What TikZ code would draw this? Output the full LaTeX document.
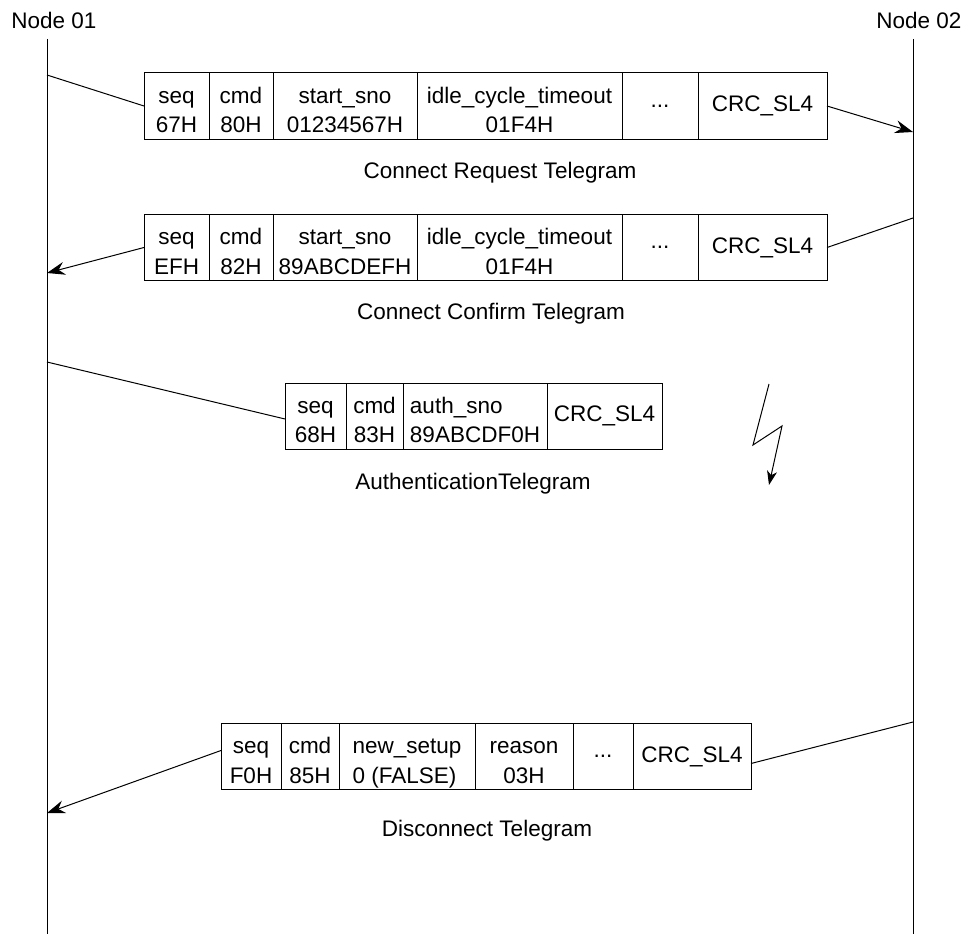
\documentclass[tikz,border=0pt]{standalone}
\usepackage{fontspec}
\setmainfont{Liberation Sans}
\usetikzlibrary{positioning,arrows.meta}
\tikzstyle{cell} = [draw, outer sep=0pt, inner xsep=2pt, inner ysep=3pt, minimum height=66pt, align=center]
\tikzstyle{twoline} = [text height=53pt, text depth=0pt]
\tikzstyle{arrow} = [->, >={Stealth[length=18pt,width=13pt,inset=6pt]}]
\tikzstyle{caption} = [anchor=base]

\begin{document}
\begin{tikzpicture}[x=1pt, y=-1pt, line width=1pt, font=\fontsize{22.5}{29.5}\selectfont]
    \useasboundingbox (0,0) rectangle (972,934);

    \node (node1) at (54,20) {Node 01};
    \node (node2) at (919,20) {Node 02};
    \coordinate (top1) at (47,39);
    \coordinate (bot1) at (47,934);
    \coordinate (top2) at (913,39);
    \coordinate (bot2) at (913,934);
    \draw (top1) -- (bot1); % lifeline of node 01
    \draw (top2) -- (bot2); % lifeline of node 02

    % connect request
    \node (seq1) [cell, twoline, minimum width=65pt, anchor=west] at (144,106) {seq\\67H};
    \node (cmd1) [cell, twoline, minimum width=64pt, right=0pt of seq1] {cmd\\80H};
    \node (sno1) [cell, twoline, minimum width=144pt, right=0pt of cmd1] {start\_sno\\01234567H};
    \node (idle1) [cell, twoline, minimum width=205pt, right=0pt of sno1] {idle\_cycle\_timeout\\01F4H};
    \node (etc1) [cell, minimum width=76pt, right=0pt of idle1] {...};
    \node (crc1) [cell, minimum width=129pt, right=0pt of etc1] {CRC\_SL4};
    \node (cap1) [caption] at (500,178) {Connect Request Telegram};
    \coordinate (out1) at (47,75);
    \coordinate (in1) at (913,132);
    \draw (out1) -- (seq1.west);
    \draw [arrow] (crc1.east) -- (in1);

    % connect confirm
    \node (seq2) [cell, twoline, minimum width=65pt, anchor=west] at (144,247.5) {seq\\EFH};
    \node (cmd2) [cell, twoline, minimum width=64pt, right=0pt of seq2] {cmd\\82H};
    \node (sno2) [cell, twoline, minimum width=144pt, right=0pt of cmd2] {start\_sno\\89ABCDEFH};
    \node (idle2) [cell, twoline, minimum width=205pt, right=0pt of sno2] {idle\_cycle\_timeout\\01F4H};
    \node (etc2) [cell, minimum width=76pt, right=0pt of idle2] {...};
    \node (crc2) [cell, minimum width=129pt, right=0pt of etc2] {CRC\_SL4};
    \node (cap2) [caption] at (491,319) {Connect Confirm Telegram};
    \coordinate (out2) at (913,218);
    \coordinate (in2) at (47,273);
    \draw (out2) -- (crc2.east);
    \draw [arrow] (seq2.west) -- (in2);

    % authentication, lost on the way
    \node (seq3) [cell, twoline, minimum width=61pt, anchor=west] at (285,416) {seq\\68H};
    \node (cmd3) [cell, twoline, minimum width=57pt, right=0pt of seq3] {cmd\\83H};
    \node (auth3) [cell, twoline, align=left, minimum width=144pt, right=0pt of cmd3] {auth\_sno\\89ABCDF0H};
    \node (crc3) [cell, minimum width=115pt, right=0pt of auth3] {CRC\_SL4};
    \node (cap3) [caption] at (473,489) {AuthenticationTelegram};
    \coordinate (out3) at (47,362);
    \draw (out3) -- ([yshift=-3pt]seq3.west);
    \draw [arrow, >={Stealth[length=14pt,width=10pt,inset=4pt]}] (769,384) -- (753,445) -- (782,426) -- (769,485); % lightning

    % disconnect
    \node (seq4) [cell, twoline, minimum width=60pt, anchor=west] at (221,756.5) {seq\\F0H};
    \node (cmd4) [cell, twoline, minimum width=58pt, right=0pt of seq4] {cmd\\85H};
    \node (setup4) [cell, twoline, align=left, minimum width=136pt, right=0pt of cmd4] {new\_setup\\0 (FALSE)};
    \node (reason4) [cell, twoline, minimum width=98pt, right=0pt of setup4] {reason\\03H};
    \node (etc4) [cell, minimum width=60pt, right=0pt of reason4] {...};
    \node (crc4) [cell, minimum width=118pt, right=0pt of etc4] {CRC\_SL4};
    \node (cap4) [caption] at (487,836) {Disconnect Telegram};
    \coordinate (out4) at (913,722);
    \coordinate (in4) at (47,813);
    \draw (out4) -- ([yshift=-7pt]crc4.east);
    \draw [arrow] ([yshift=6pt]seq4.west) -- (in4);
\end{tikzpicture}
\end{document}
